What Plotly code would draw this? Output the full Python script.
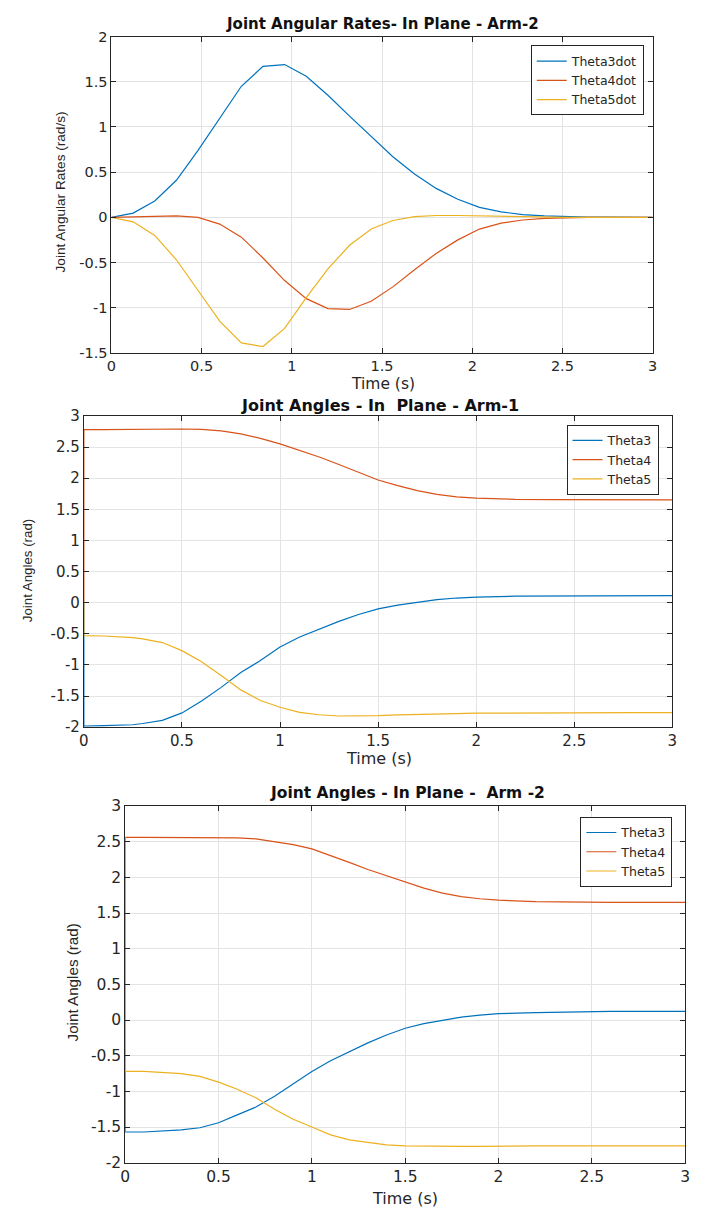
import plotly.graph_objects as go

# ---------------- data ----------------
# Panel 1: Joint angular rates (sampled every 0.12 s)
t_rate = [0.00, 0.12, 0.24, 0.36, 0.48, 0.60, 0.72, 0.84, 0.96, 1.08, 1.20, 1.32, 1.44,
          1.56, 1.68, 1.80, 1.92, 2.04, 2.16, 2.28, 2.40, 2.52, 2.64, 2.76, 2.88, 3.00]
theta3dot = [0.0, 0.047, 0.18, 0.41, 0.74, 1.10, 1.45, 1.67, 1.69, 1.56, 1.35, 1.12, 0.89,
             0.67, 0.48, 0.32, 0.20, 0.11, 0.06, 0.03, 0.015, 0.007, 0.003, 0.001, 0.0, 0.0]
theta4dot = [0.0, 0.005, 0.012, 0.015, 0.0, -0.075, -0.22, -0.45, -0.70, -0.90, -1.01, -1.02, -0.93,
             -0.77, -0.58, -0.40, -0.25, -0.13, -0.065, -0.03, -0.012, -0.004, -0.001, 0.0, 0.0, 0.0]
theta5dot = [0.0, -0.05, -0.20, -0.47, -0.81, -1.15, -1.39, -1.43, -1.23, -0.89, -0.57, -0.31, -0.13,
             -0.035, 0.008, 0.02, 0.02, 0.015, 0.008, 0.004, 0.002, 0.0, 0.0, 0.0, 0.0, 0.0]

# Panels 2 and 3: joint angles
t_ang = [0.0, 0.0, 0.1, 0.2, 0.25, 0.3, 0.4, 0.5, 0.6, 0.7, 0.8, 0.9, 1.0, 1.1, 1.2, 1.3, 1.4,
         1.5, 1.6, 1.7, 1.8, 1.9, 2.0, 2.2, 2.4, 2.6, 2.8, 3.0]

arm1_theta3 = [0.0, -1.98, -1.975, -1.965, -1.96, -1.94, -1.89, -1.77, -1.58, -1.36, -1.12, -0.93,
               -0.71, -0.55, -0.42, -0.30, -0.19, -0.10, -0.04, 0.01, 0.05, 0.075, 0.09, 0.105,
               0.11, 0.115, 0.115, 0.115]
arm1_theta4 = [0.0, 2.78, 2.78, 2.785, 2.785, 2.79, 2.79, 2.79, 2.785, 2.76, 2.71, 2.64, 2.55,
               2.45, 2.34, 2.22, 2.09, 1.97, 1.88, 1.80, 1.74, 1.70, 1.68, 1.66, 1.655, 1.65,
               1.65, 1.65]
arm1_theta5 = [0.0, -0.53, -0.535, -0.55, -0.56, -0.58, -0.64, -0.77, -0.95, -1.17, -1.40, -1.57,
               -1.68, -1.76, -1.80, -1.82, -1.82, -1.815, -1.80, -1.79, -1.785, -1.78, -1.775,
               -1.77, -1.765, -1.765, -1.765, -1.765]

arm2_theta3 = [0.0, -1.57, -1.57, -1.56, -1.555, -1.54, -1.51, -1.44, -1.33, -1.22, -1.07, -0.89,
               -0.72, -0.57, -0.44, -0.32, -0.21, -0.115, -0.05, 0.0, 0.04, 0.07, 0.09, 0.105,
               0.115, 0.12, 0.12, 0.12]
arm2_theta4 = [0.0, 2.56, 2.56, 2.56, 2.56, 2.56, 2.56, 2.56, 2.555, 2.54, 2.50, 2.46, 2.40,
               2.31, 2.21, 2.11, 2.02, 1.93, 1.85, 1.78, 1.73, 1.70, 1.68, 1.66, 1.65, 1.65,
               1.65, 1.65]
arm2_theta5 = [0.0, -0.72, -0.72, -0.73, -0.74, -0.75, -0.79, -0.87, -0.97, -1.09, -1.25, -1.39,
               -1.50, -1.61, -1.68, -1.72, -1.75, -1.765, -1.77, -1.77, -1.77, -1.77, -1.765,
               -1.765, -1.765, -1.765, -1.765, -1.765]

x_ticks = [0, 0.5, 1, 1.5, 2, 2.5, 3]
x_ticktext = ["0", "0.5", "1", "1.5", "2", "2.5", "3"]
y1_ticks = [-1.5, -1, -0.5, 0, 0.5, 1, 1.5, 2]
y1_ticktext = ["-1.5", "-1", "-0.5", "0", "0.5", "1", "1.5", "2"]
y2_ticks = [-2, -1.5, -1, -0.5, 0, 0.5, 1, 1.5, 2, 2.5, 3]
y2_ticktext = ["-2", "-1.5", "-1", "-0.5", "0", "0.5", "1", "1.5", "2", "2.5", "3"]

titles = ["Joint Angular Rates- In Plane - Arm-2",
          "Joint Angles - In\u00a0 Plane - Arm-1",
          "Joint Angles - In Plane -\u00a0 Arm -2"]
ytitles = ["Joint Angular Rates (rad/s)", "Joint Angles (rad)", "Joint Angles (rad)"]
xtitle = "Time (s)"

# ---------------- styling ----------------
W, H = 701, 1218
C1, C2, C3 = "#0072BD", "#D95319", "#EDB120"
FONT = "DejaVu Sans, Liberation Sans, Arial, sans-serif"
YFONT = "Liberation Sans, Arial, Helvetica, sans-serif"
AX = "#262626"
GRID = "#e3e3e3"


def px(x):
    return x / W


def py(y):
    return 1 - y / H


# plot areas in pixels: (left, right, top, bottom)
boxes = [(108, 657, 28, 349), (80, 677, 413, 729), (122, 690, 809, 1171)]

fig = go.Figure()

series = [
    (t_rate, [theta3dot, theta4dot, theta5dot], ["Theta3dot", "Theta4dot", "Theta5dot"]),
    (t_ang, [arm1_theta3, arm1_theta4, arm1_theta5], ["Theta3", "Theta4", "Theta5"]),
    (t_ang, [arm2_theta3, arm2_theta4, arm2_theta5], ["Theta3", "Theta4", "Theta5"]),
]
colors = [C1, C2, C3]
legend_names = ["legend", "legend2", "legend3"]

for i, (tt, ys, names) in enumerate(series):
    ax = "" if i == 0 else str(i + 1)
    for y, n, c in zip(ys, names, colors):
        fig.add_trace(go.Scatter(x=tt, y=y, mode="lines", name=n,
                                 line=dict(color=c, width=1.2),
                                 xaxis="x" + ax, yaxis="y" + ax,
                                 legend=legend_names[i]))

layout = dict(width=W, height=H, autosize=False,
              margin=dict(l=0, r=0, t=0, b=0),
              paper_bgcolor="white", plot_bgcolor="white",
              font=dict(family=FONT, color=AX, size=14))

yranges = [[-1.5, 2], [-2, 3], [-2, 3]]
yticks = [(y1_ticks, y1_ticktext), (y2_ticks, y2_ticktext), (y2_ticks, y2_ticktext)]
tick_sizes = [14.5, 15, 15.5]

for i, (l, r, t, b) in enumerate(boxes):
    ax = "" if i == 0 else str(i + 1)
    common = dict(showline=True, linecolor=AX, linewidth=1, mirror="ticks",
                  ticks="inside", ticklen=5, tickcolor=AX, tickwidth=1,
                  showgrid=True, gridcolor=GRID, gridwidth=1, zeroline=False,
                  tickfont=dict(family=FONT, size=tick_sizes[i], color=AX))
    layout["xaxis" + ax] = dict(domain=[px(l), px(r)], range=[0, 3],
                                tickvals=x_ticks, ticktext=x_ticktext,
                                anchor="y" + ax, **common)
    layout["yaxis" + ax] = dict(domain=[py(b), py(t)], range=yranges[i],
                                tickvals=yticks[i][0], ticktext=yticks[i][1],
                                anchor="x" + ax, **common)

# legends
legend_pos = [(648, 37), (663, 422), (677, 820)]
for i, (lx, ly) in enumerate(legend_pos):
    key = legend_names[i]
    layout[key] = dict(x=px(lx), y=py(ly), xanchor="right", yanchor="top",
                       xref="paper", yref="paper",
                       bgcolor="white", bordercolor=AX, borderwidth=1,
                       font=dict(family=FONT, size=12.5, color=AX),
                       tracegroupgap=0)

fig.update_layout(**layout)

# titles and axis titles
title_pos = [(383, 15), (380, 402), (408, 796)]
xt_pos = [(383, 381), (379, 761), (406, 1207)]
yt_pos = [(56, 186), (23, 570), (68, 988)]
title_sizes = [15, 16, 15.5]
xt_sizes = [15.5, 16, 16]
yt_sizes = [13.6, 13.3, 15.2]
for i in range(3):
    fig.add_annotation(text="<b>" + titles[i] + "</b>", x=px(title_pos[i][0]), y=py(title_pos[i][1]),
                       xref="paper", yref="paper", showarrow=False,
                       xanchor="center", yanchor="middle",
                       font=dict(family=FONT, size=title_sizes[i], color="#111111"))
    fig.add_annotation(text=xtitle, x=px(xt_pos[i][0]), y=py(xt_pos[i][1]),
                       xref="paper", yref="paper", showarrow=False,
                       xanchor="center", yanchor="middle",
                       font=dict(family=FONT, size=xt_sizes[i], color=AX))
    fig.add_annotation(text=ytitles[i], x=px(yt_pos[i][0]), y=py(yt_pos[i][1]),
                       xref="paper", yref="paper", showarrow=False, textangle=-90,
                       xanchor="center", yanchor="middle",
                       font=dict(family=YFONT, size=yt_sizes[i], color=AX))

fig.write_html("out.html")
